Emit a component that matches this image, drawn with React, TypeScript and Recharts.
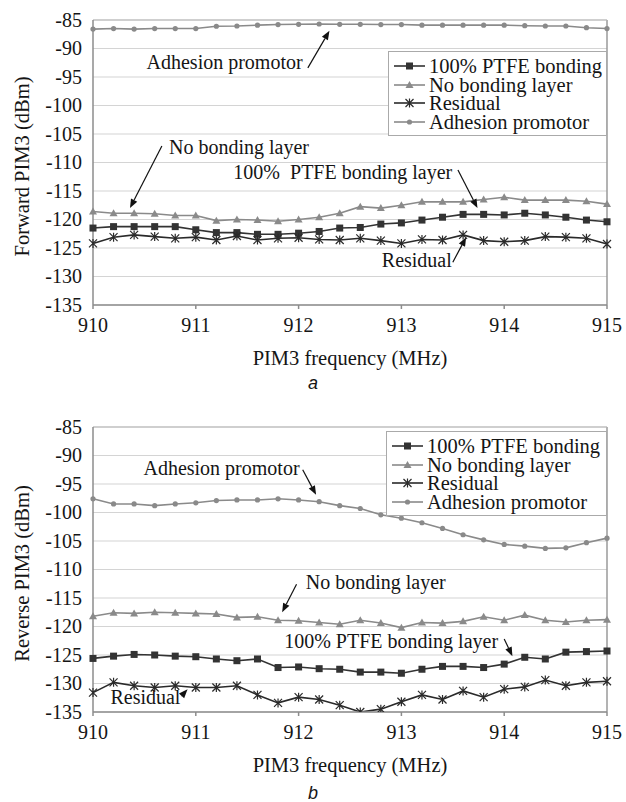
import {
  LineChart,
  Line,
  XAxis,
  YAxis,
  CartesianGrid,
  ReferenceLine,
  ReferenceDot,
  Legend,
} from 'recharts'

const freqs = [
  910, 910.2, 910.4, 910.6, 910.8, 911, 911.2, 911.4, 911.6, 911.8, 912, 912.2, 912.4,
  912.6, 912.8, 913, 913.2, 913.4, 913.6, 913.8, 914, 914.2, 914.4, 914.6, 914.8, 915,
]

// panel a: forward PIM3
const ptfeFwd = [
  -121.5, -121.25, -121.25, -121.25, -121.25, -121.8, -122.3, -122.3, -122.6, -122.6, -122.4,
  -122.1, -121.5, -121.4, -120.8, -120.6, -120.1, -119.6, -119.1, -119.1, -119.2, -118.9,
  -119.2, -119.6, -120.1, -120.4,
]
const noBondFwd = [
  -118.6, -118.9, -118.9, -119.0, -119.3, -119.3, -120.2, -120.0, -120.1, -120.3, -120.0,
  -119.6, -118.9, -117.75, -118.0, -117.5, -116.9, -116.9, -116.9, -116.5, -116.1, -116.6,
  -116.6, -116.6, -116.8, -117.3,
]
const residualFwd = [
  -124.2, -123.1, -122.7, -123.0, -123.3, -123.1, -123.6, -122.9, -123.6, -123.3, -123.2,
  -123.5, -123.6, -123.3, -123.7, -124.2, -123.5, -123.6, -122.7, -123.7, -123.9, -123.7,
  -123.0, -123.1, -123.3, -124.3,
]
const adhesionFwd = [
  -86.6, -86.5, -86.6, -86.5, -86.5, -86.5, -86.1, -86.05, -85.9, -85.8, -85.75, -85.7,
  -85.75, -85.75, -85.8, -85.8, -85.9, -85.9, -85.9, -85.9, -85.9, -86.0, -86.05, -86.05,
  -86.35, -86.5,
]

// panel b: reverse PIM3
const ptfeRev = [
  -125.6, -125.2, -124.9, -125.0, -125.2, -125.3, -125.7, -126.0, -125.7, -127.2, -127.1,
  -127.4, -127.5, -128.0, -128.0, -128.2, -127.5, -127.0, -127.0, -127.2, -126.6, -125.4,
  -125.7, -124.5, -124.4, -124.3,
]
const noBondRev = [
  -118.2, -117.6, -117.7, -117.5, -117.6, -117.7, -117.8, -118.4, -118.3, -118.9, -119.0,
  -119.3, -119.6, -118.9, -119.4, -120.2, -119.3, -119.4, -119.1, -118.3, -118.9, -118.0,
  -118.9, -119.2, -118.9, -118.8,
]
const residualRev = [
  -131.6, -129.8, -130.4, -130.7, -130.4, -130.7, -130.7, -130.4, -132.0, -133.4, -132.4,
  -132.8, -133.8, -135.0, -134.5, -133.2, -132.0, -132.8, -131.3, -132.4, -131.0, -130.6,
  -129.4, -130.4, -129.8, -129.6,
]
const adhesionRev = [
  -97.6, -98.5, -98.5, -98.8, -98.5, -98.3, -97.9, -97.8, -97.8, -97.6, -97.8, -98.1, -98.8,
  -99.3, -100.4, -101.0, -101.8, -102.8, -103.9, -104.8, -105.6, -105.9, -106.3, -106.2,
  -105.3, -104.5,
]

const xTicks = [910, 911, 912, 913, 914, 915]
const yTicks = [-135, -130, -125, -120, -115, -110, -105, -100, -95, -90, -85]

const fwdNotes = [
  { text: 'Adhesion promotor', x: 911.28, y: -92.4 },
  { text: 'No bonding layer', x: 911.42, y: -107.3 },
  { text: '100%  PTFE bonding layer', x: 912.43, y: -111.8 },
  { text: 'Residual', x: 913.15, y: -127.1 },
]
const fwdArrows = [
  { x1: 912.09, y1: -93.4, x2: 912.3, y2: -86.9 },
  { x1: 910.67, y1: -107.1, x2: 910.36, y2: -118.0 },
  { x1: 913.55, y1: -111.3, x2: 913.74, y2: -118.0 },
  { x1: 913.5, y1: -127.5, x2: 913.63, y2: -123.1 },
]
const revNotes = [
  { text: 'Adhesion promotor', x: 911.25, y: -92.2 },
  { text: 'No bonding layer', x: 912.75, y: -112.3 },
  { text: '100% PTFE bonding layer', x: 912.9, y: -122.6 },
  { text: 'Residual', x: 910.51, y: -132.4 },
]
const revArrows = [
  { x1: 912.04, y1: -92.5, x2: 912.17, y2: -96.9 },
  { x1: 911.98, y1: -112.6, x2: 911.84, y2: -117.5 },
  { x1: 914.0, y1: -122.2, x2: 914.08, y2: -125.2 },
  { x1: 910.86, y1: -132.2, x2: 910.92, y2: -131.0 },
]

const FONT = '"Times New Roman", "Liberation Serif", serif'
const INK = '#151515'

const series = [
  { key: 'ptfe', name: '100% PTFE bonding', color: '#333', marker: 'square' },
  { key: 'noBond', name: 'No bonding layer', color: '#8a8a8a', marker: 'triangle' },
  { key: 'residual', name: 'Residual', color: '#2a2a2a', marker: 'star' },
  { key: 'adhesion', name: 'Adhesion promotor', color: '#8a8a8a', marker: 'diamond' },
]

function Marker({ type, cx, cy, color }: { type: string; cx: number; cy: number; color: string }) {
  if (cx == null || cy == null) return null
  if (type === 'square')
    return <rect x={cx - 3.5} y={cy - 3.5} width={7} height={7} fill={color} />
  if (type === 'triangle')
    return (
      <polygon
        points={`${cx},${cy - 4} ${cx + 4},${cy + 3} ${cx - 4},${cy + 3}`}
        fill={color}
      />
    )
  if (type === 'star')
    return (
      <path
        d={`M${cx - 4},${cy - 4}L${cx + 4},${cy + 4}M${cx - 4},${cy + 4}L${cx + 4},${cy - 4}M${cx},${cy - 4.5}L${cx},${cy + 4.5}`}
        stroke={color}
        strokeWidth={1.2}
        fill="none"
      />
    )
  return <circle cx={cx} cy={cy} r={2.6} fill={color} />
}

function Arrow(props: any) {
  const { x1, y1, x2, y2 } = props
  const ang = Math.atan2(y2 - y1, x2 - x1)
  const len = 9
  const w = 3.5
  const bx = x2 - len * Math.cos(ang)
  const by = y2 - len * Math.sin(ang)
  const pts = `${x2},${y2} ${bx + w * Math.sin(ang)},${by - w * Math.cos(ang)} ${bx - w * Math.sin(ang)},${by + w * Math.cos(ang)}`
  return (
    <g>
      <line x1={x1} y1={y1} x2={bx} y2={by} stroke="#111" strokeWidth={1.2} />
      <polygon points={pts} fill="#111" />
    </g>
  )
}

function NoteText(text: string) {
  return (props: any) => (
    <text
      x={props.cx}
      y={props.cy}
      dy="0.33em"
      textAnchor="middle"
      fontFamily={FONT}
      fontSize={20}
      fill={INK}
      style={{ whiteSpace: 'pre' }}
    >
      {text}
    </text>
  )
}

function XTick(props: any) {
  return (
    <text x={props.x} y={props.y} dy="0.7em" textAnchor="middle" fontFamily={FONT} fontSize={20} fill={INK}>
      {props.payload.value}
    </text>
  )
}

function YTick(props: any) {
  return (
    <text x={props.x} y={props.y} dy="0.33em" textAnchor="end" fontFamily={FONT} fontSize={20} fill={INK}>
      {props.payload.value}
    </text>
  )
}

function XLabel(props: any) {
  const vb = props.viewBox || {}
  return (
    <text
      x={vb.x + vb.width / 2}
      y={vb.y + 60}
      textAnchor="middle"
      fontFamily={FONT}
      fontSize={20.5}
      fill={INK}
    >
      PIM3 frequency (MHz)
    </text>
  )
}

function YLabel(text: string) {
  return (props: any) => {
    const vb = props.viewBox || {}
    const cx = 22
    const cy = vb.y + vb.height / 2 + 4
    return (
      <text
        x={cx}
        y={cy}
        dy="0.33em"
        textAnchor="middle"
        transform={`rotate(-90, ${cx}, ${cy})`}
        fontFamily={FONT}
        fontSize={20.5}
        fill={INK}
      >
        {text}
      </text>
    )
  }
}

function LegendBox() {
  return (
    <div
      style={{
        border: '1px solid #aaa',
        background: '#fff',
        padding: '5px 0 4px 4px',
        fontFamily: FONT,
        fontSize: 20.5,
        lineHeight: '18.5px',
        color: INK,
        boxSizing: 'border-box',
      }}
    >
      {series.map((s) => (
        <div key={s.key} style={{ display: 'flex', alignItems: 'center', whiteSpace: 'nowrap' }}>
          <svg width={33} height={14} style={{ marginRight: 3 }}>
            <line x1={1} y1={7} x2={32} y2={7} stroke={s.color} strokeWidth={1.6} />
            <Marker type={s.marker} cx={16.5} cy={7} color={s.color} />
          </svg>
          <span>{s.name}</span>
        </div>
      ))}
    </div>
  )
}

type PanelProps = {
  data: any[]
  yLabel: string
  notes: { text: string; x: number; y: number }[]
  arrows: { x1: number; y1: number; x2: number; y2: number }[]
  legendPos: { top: number; left: number; width: number }
}

function Panel({ data, yLabel, notes, arrows, legendPos }: PanelProps) {
  return (
    <LineChart
      width={626}
      height={395}
      data={data}
      margin={{ top: 20, right: 19, left: 0, bottom: 0 }}
    >
      <CartesianGrid vertical={false} stroke="#d4d4d4" strokeWidth={1.2} />
      <XAxis
        dataKey="freq"
        type="number"
        domain={[910, 915]}
        ticks={xTicks}
        height={90}
        stroke="#8c8c8c"
        strokeWidth={1.5}
        tickSize={4}
        tickMargin={9}
        tick={XTick}
        label={{ content: XLabel }}
      />
      <YAxis
        type="number"
        domain={[-135, -85]}
        ticks={yTicks}
        allowDataOverflow
        width={93}
        stroke="#8c8c8c"
        strokeWidth={1.5}
        tickLine={false}
        tickSize={0}
        tickMargin={11}
        tick={YTick}
        label={{ content: YLabel(yLabel) }}
      />
      <ReferenceLine x={915} stroke="#9a9a9a" strokeWidth={1.5} />
      <ReferenceLine y={-85} stroke="#b5b5b5" strokeWidth={1.2} />
      {series.map((s) => (
        <Line
          key={s.key}
          dataKey={s.key}
          name={s.name}
          type="linear"
          stroke={s.color}
          strokeWidth={1.6}
          isAnimationActive={false}
          dot={(p: any) => (
            <Marker key={`${s.key}-${p.index}`} type={s.marker} cx={p.cx} cy={p.cy} color={s.color} />
          )}
          activeDot={false}
        />
      ))}
      {arrows.map((a, i) => (
        <ReferenceLine
          key={`arrow-${i}`}
          segment={[
            { x: a.x1, y: a.y1 },
            { x: a.x2, y: a.y2 },
          ]}
          shape={Arrow}
        />
      ))}
      {notes.map((n, i) => (
        <ReferenceDot key={`note-${i}`} x={n.x} y={n.y} r={0} shape={NoteText(n.text)} />
      ))}
      <Legend
        layout="vertical"
        align="center"
        verticalAlign="middle"
        content={LegendBox}
        wrapperStyle={{ ...legendPos }}
      />
    </LineChart>
  )
}

export default function App() {
  const fwdData = freqs.map((f, i) => ({
    freq: f,
    ptfe: ptfeFwd[i],
    noBond: noBondFwd[i],
    residual: residualFwd[i],
    adhesion: adhesionFwd[i],
  }))
  const revData = freqs.map((f, i) => ({
    freq: f,
    ptfe: ptfeRev[i],
    noBond: noBondRev[i],
    residual: residualRev[i],
    adhesion: adhesionRev[i],
  }))
  const capStyle = {
    position: 'absolute' as const,
    left: 303,
    width: 20,
    textAlign: 'center' as const,
    fontFamily: '"Liberation Sans", Arial, sans-serif',
    fontStyle: 'italic',
    fontSize: 18,
    lineHeight: '18px',
    color: INK,
  }
  return (
    <div
      style={{
        position: 'absolute',
        left: 0,
        top: 0,
        width: 626,
        height: 802,
        background: '#fff',
        overflow: 'hidden',
      }}
    >
      <div style={{ position: 'absolute', left: 0, top: 0 }}>
        <Panel
          data={fwdData}
          yLabel="Forward PIM3 (dBm)"
          notes={fwdNotes}
          arrows={fwdArrows}
          legendPos={{ top: 51, left: 388, width: 219 }}
        />
      </div>
      <div style={{ ...capStyle, top: 374 }}>a</div>
      <div style={{ position: 'absolute', left: 0, top: 407 }}>
        <Panel
          data={revData}
          yLabel="Reverse PIM3 (dBm)"
          notes={revNotes}
          arrows={revArrows}
          legendPos={{ top: 24, left: 386, width: 221 }}
        />
      </div>
      <div style={{ ...capStyle, top: 784 }}>b</div>
    </div>
  )
}
